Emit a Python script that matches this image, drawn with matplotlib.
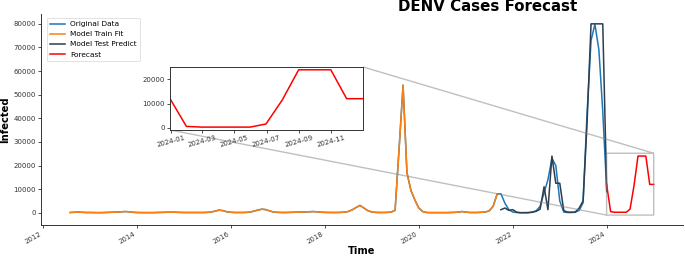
import matplotlib
matplotlib.use("Agg")
import matplotlib.pyplot as plt
import matplotlib.dates as mdates
import pandas as pd

# ---------------- data ----------------
train_start = "2012-08-01"
train_values = [
    # 2012 Aug-Dec
    100, 200, 300, 200, 100,
    # 2013
    100, 50, 50, 50, 100, 150, 200, 300, 400, 500, 400, 200,
    # 2014
    100, 50, 50, 50, 50, 100, 150, 200, 250, 250, 200, 150,
    # 2015
    100, 100, 100, 100, 100, 100, 150, 300, 700, 1100, 900, 400,
    # 2016
    200, 100, 100, 100, 150, 300, 700, 1200, 1500, 1300, 700, 300,
    # 2017
    150, 100, 100, 150, 200, 250, 300, 350, 400, 500, 400, 250,
    # 2018
    150, 100, 100, 100, 150, 250, 500, 1200, 2200, 3100, 2000, 900,
    # 2019
    300, 150, 100, 100, 150, 300, 1000, 27000, 54000, 17000, 9500, 5500,
    # 2020
    2000, 500, 100, 50, 50, 50, 50, 50, 100, 150, 250, 500,
    # 2021 Jan-Sep
    300, 100, 100, 100, 200, 300, 800, 2700, 7900,
]

test_start = "2021-10-01"
orig_test_values = [
    # 2021 Oct-Dec
    8000, 4000, 1300,
    # 2022
    300, 100, 50, 50, 100, 300, 800, 2700, 8400, 14000, 23000, 20000,
    # 2023
    5000, 300, 100, 100, 200, 1000, 4200, 42000, 73000, 79800, 69000, 43000,
    # 2024 Jan
    9000,
]
test_pred_values = [
    # 2021 Oct-Dec
    1300, 2000, 1000,
    # 2022
    1300, 200, 0, 0, 0, 200, 600, 1500, 11000, 1300, 24000, 12500,
    # 2023
    12500, 900, 300, 200, 300, 2000, 5000, 38000, 80000, 80000, 80000, 80000,
    # 2024 Jan
    9000,
]

forecast_start = "2023-12-31"
forecast_values = [12000, 500, 200, 200, 200, 200, 1500, 11500,
                   24000, 24000, 24000, 12000, 12000]

y_ticks = [0, 10000, 20000, 30000, 40000, 50000, 60000, 70000, 80000]
inset_y_ticks = [0, 10000, 20000]

# ---------------- series ----------------
train_idx = pd.date_range(train_start, periods=len(train_values), freq="MS")
test_idx = pd.date_range(test_start, periods=len(test_pred_values), freq="MS")
fc_idx = pd.date_range(forecast_start, periods=len(forecast_values), freq="ME")

orig_idx = train_idx.append(pd.date_range(test_start, periods=len(orig_test_values), freq="MS"))
orig_values = list(train_values) + list(orig_test_values)

c_orig = "#1f77b4"
c_train = "#ff7f0e"
c_test = "#2c3e50"
c_fc = "red"
lw = 1.1

fig = plt.figure(figsize=(6.85, 2.58), dpi=100)
ax = fig.add_axes([0.0599, 0.126, 0.937, 0.820])

ax.plot(orig_idx, orig_values, color=c_orig, lw=lw, label="Original Data")
ax.plot(train_idx, train_values, color=c_train, lw=lw, label="Model Train Fit")
ax.plot(test_idx, test_pred_values, color=c_test, lw=lw, label="Model Test Predict")
ax.plot(fc_idx, forecast_values, color=c_fc, lw=lw, label="Forecast")

ax.set_ylim(-5400, 84200)
ax.set_yticks(y_ticks)
ax.xaxis.set_major_locator(mdates.YearLocator(2))
ax.xaxis.set_major_formatter(mdates.DateFormatter("%Y"))
for s in ["top", "right"]:
    ax.spines[s].set_visible(False)
for s in ["left", "bottom"]:
    ax.spines[s].set_linewidth(0.7)
    ax.spines[s].set_color("#333333")
ax.tick_params(labelsize=5.0, length=2.2, width=0.6, pad=1.5, colors="#333333")
plt.setp(ax.get_xticklabels(), rotation=30, ha="right")

ax.set_title("DENV Cases Forecast", fontsize=10.8, fontweight="bold", x=0.696, pad=1)
ax.set_xlabel("Time", fontsize=7.1, fontweight="bold", labelpad=1)
ax.set_ylabel("Infected", fontsize=7.2, fontweight="bold", labelpad=2)

leg = ax.legend(loc="upper left", fontsize=5.3, frameon=True, borderpad=0.45,
                handlelength=2.0, labelspacing=0.55, handletextpad=0.7,
                bbox_to_anchor=(0.003, 1.0))
leg.get_frame().set_linewidth(0.5)

# ---------------- inset ----------------
axins = ax.inset_axes([0.201, 0.4515, 0.3006, 0.298])
axins.plot(fc_idx, forecast_values, color=c_fc, lw=lw)
axins.set_xlim(fc_idx[0], fc_idx[-1])
axins.set_yticks(inset_y_ticks)
axins.xaxis.set_major_locator(mdates.MonthLocator(bymonth=[1, 3, 5, 7, 9, 11]))
axins.xaxis.set_major_formatter(mdates.DateFormatter("%Y-%m"))
axins.tick_params(labelsize=5.0, length=2.2, width=0.6, pad=1.5, colors="#333333")
plt.setp(axins.get_xticklabels(), rotation=15, ha="center")
for s in axins.spines.values():
    s.set_linewidth(0.7)
    s.set_color("#333333")

ind = ax.indicate_inset_zoom(axins, edgecolor="0.5")
conns = ind.connectors
for i, vis in enumerate([True, False, False, True]):
    conns[i].set_visible(vis)

fig.savefig("out.png", dpi=100)
